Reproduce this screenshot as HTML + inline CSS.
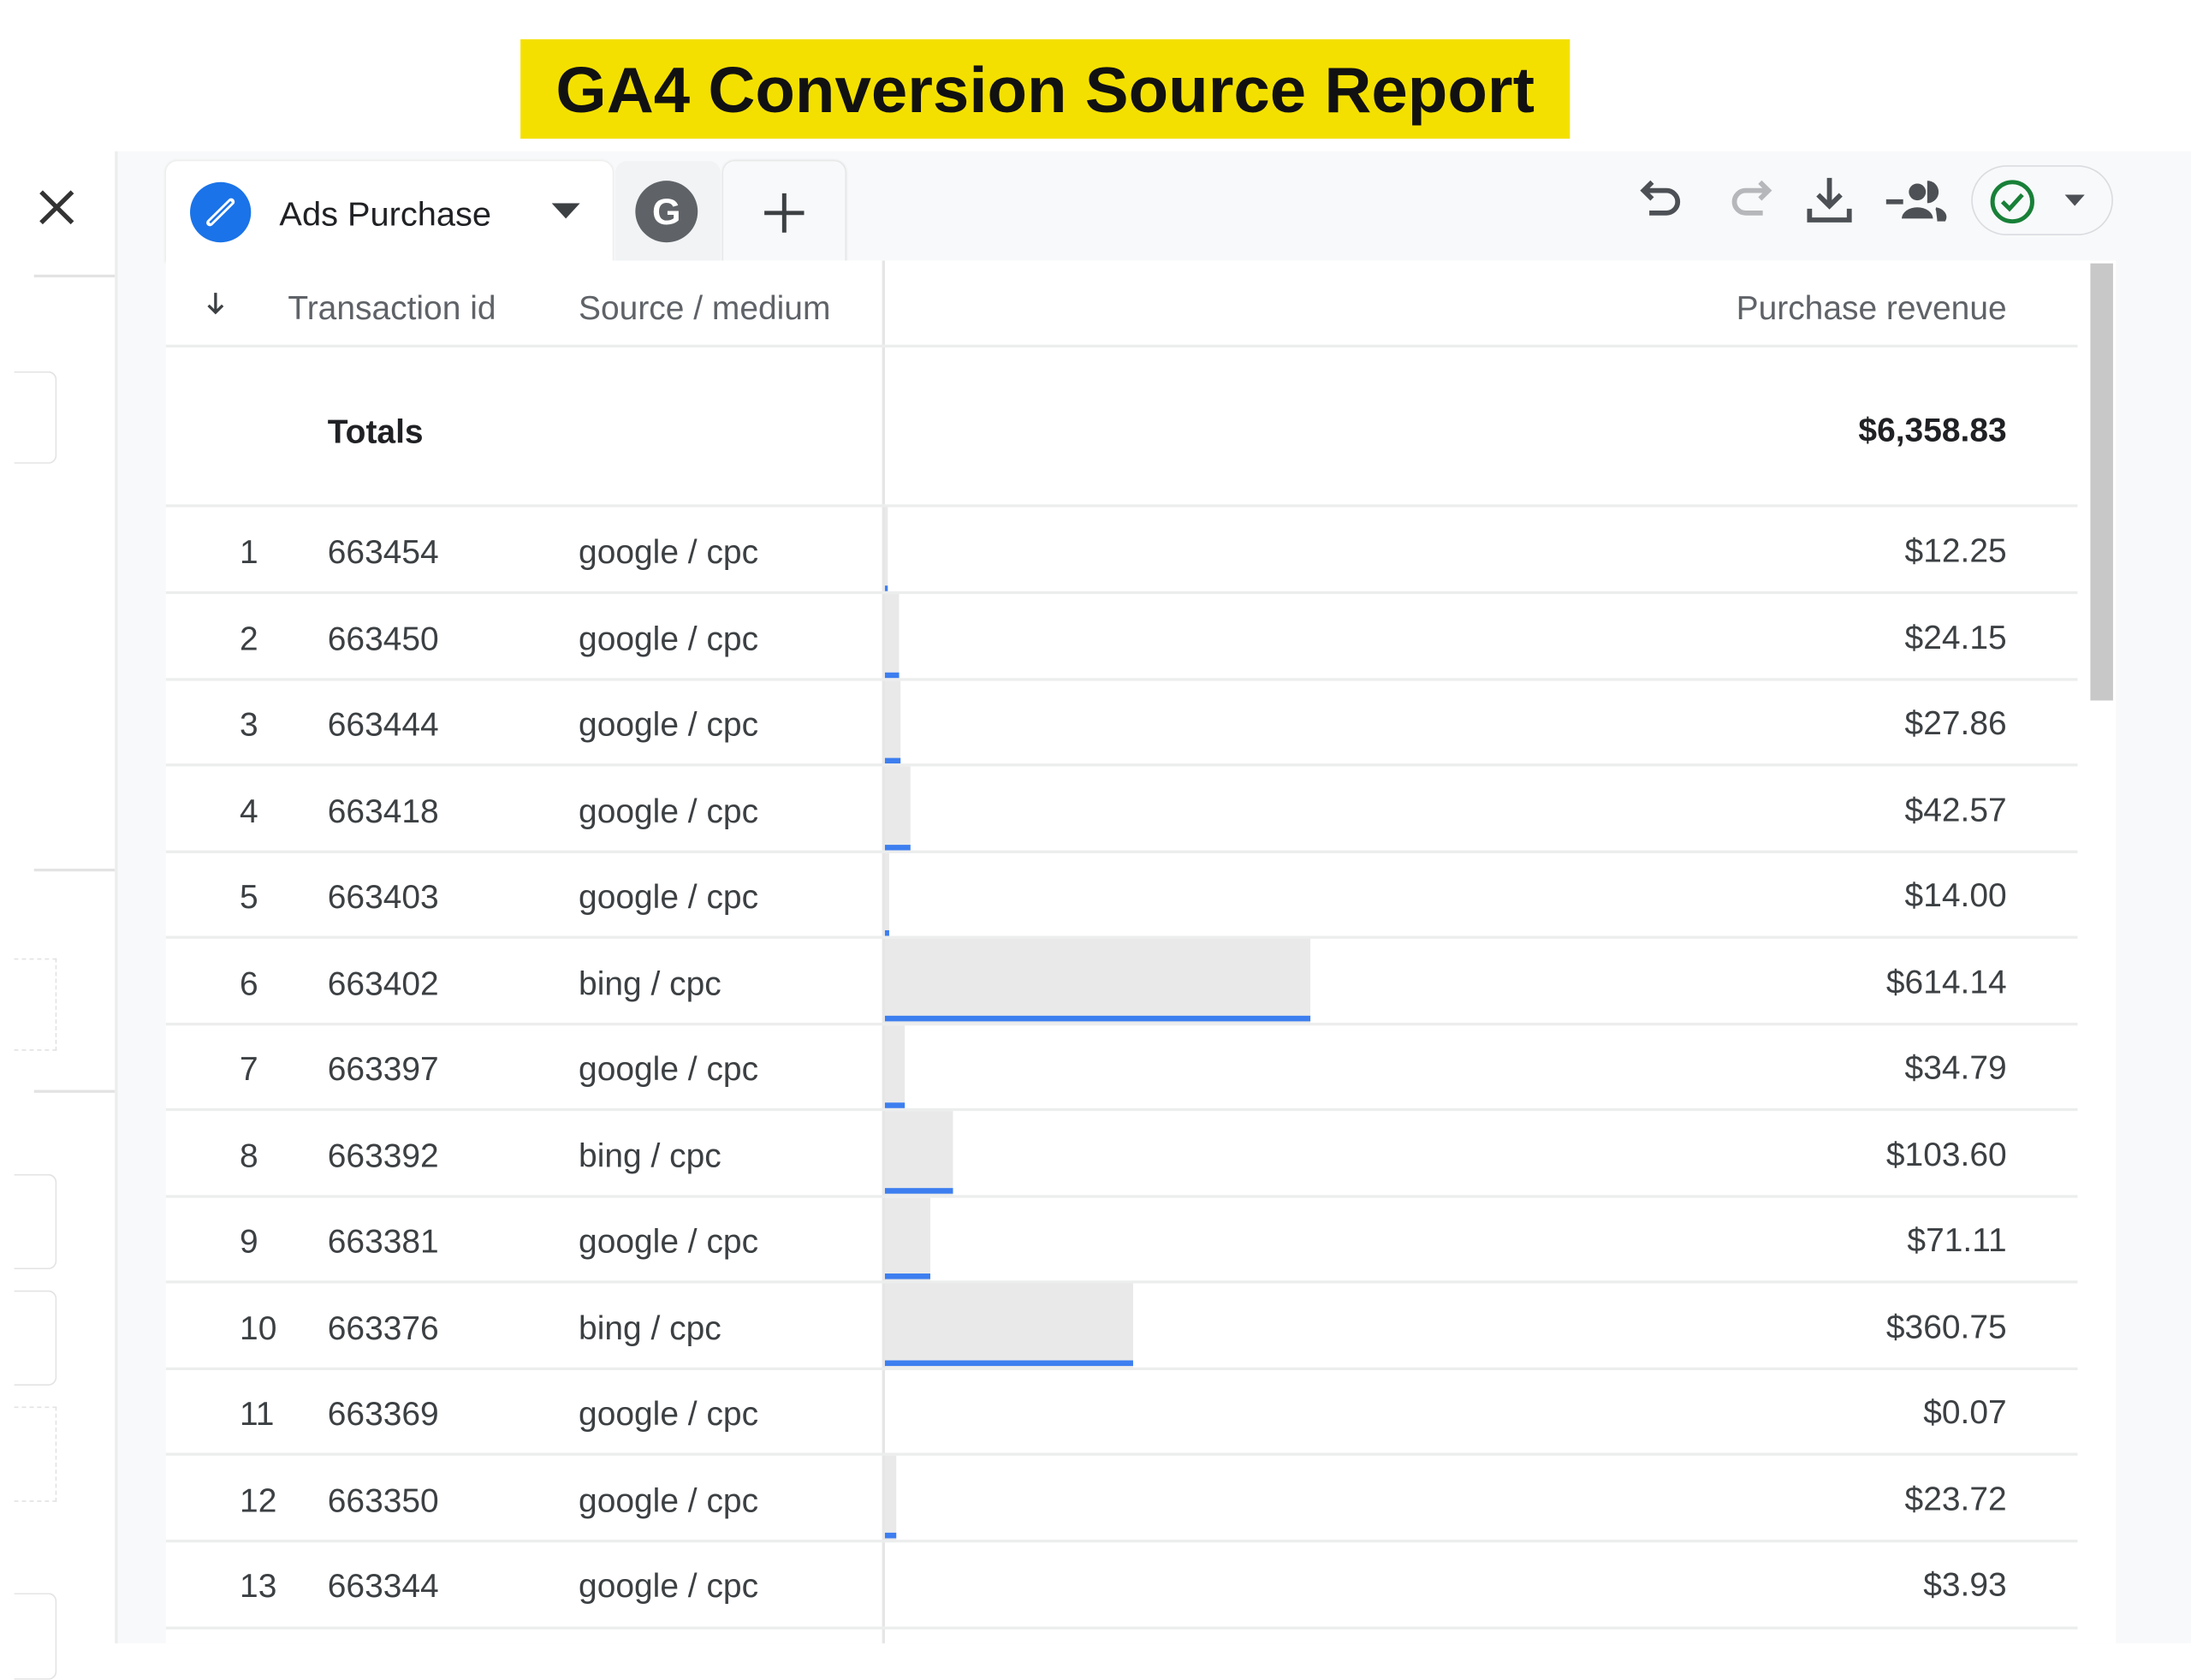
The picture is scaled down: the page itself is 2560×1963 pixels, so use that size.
<!DOCTYPE html>
<html><head><meta charset="utf-8"><style>
html,body{margin:0;padding:0;background:#fff;}
body{width:2560px;height:1920px;overflow:hidden;position:relative;}
#s{position:absolute;left:0;top:0;width:1545px;height:1173px;transform-origin:0 0;transform:scale(1.657,1.637);font-family:"Liberation Sans",Arial,sans-serif;}
.a{position:absolute;}
.t{position:absolute;font-size:23.5px;color:#3c4043;white-space:nowrap;line-height:1;}
.h{color:#5f6368;}
.r{text-align:right;}
.ln{position:absolute;left:117px;width:1348px;height:2px;background:#eceded;}
.gb{position:absolute;left:624px;background:#e9e9e9;}
.bb{position:absolute;left:624px;background:#3d7ef0;height:4px;}
</style></head><body><div id="s">
<div class="a" style="left:367px;top:28px;width:740px;height:71px;background:#f4e000;"></div>
<div class="a" style="left:367px;top:34px;width:740px;text-align:center;font-size:46px;font-weight:bold;color:#111;line-height:60px;">GA4 Conversion Source Report</div>

<div class="a" style="left:82px;top:108px;width:1463px;height:1065px;background:#f8f9fa;"></div>
<div class="a" style="left:81px;top:108px;width:2px;height:1065px;background:#eceded;"></div>
<div class="a" style="left:24px;top:196px;width:57px;height:2px;background:#e3e3e3;"></div>
<div class="a" style="left:24px;top:620px;width:57px;height:2px;background:#e3e3e3;"></div>
<div class="a" style="left:24px;top:778px;width:57px;height:2px;background:#e3e3e3;"></div>
<div class="a" style="left:10px;top:265px;width:29px;height:64px;border:1px solid #e3e3e3;border-left:none;border-radius:0 6px 6px 0;"></div>
<div class="a" style="left:10px;top:684px;width:29px;height:64px;border:1px dashed #e3e3e3;border-left:none;"></div>
<div class="a" style="left:10px;top:838px;width:29px;height:66px;border:1px solid #e3e3e3;border-left:none;border-radius:0 6px 6px 0;"></div>
<div class="a" style="left:10px;top:921px;width:29px;height:66px;border:1px solid #e3e3e3;border-left:none;border-radius:0 6px 6px 0;"></div>
<div class="a" style="left:10px;top:1004px;width:29px;height:66px;border:1px dashed #e3e3e3;border-left:none;"></div>
<div class="a" style="left:10px;top:1137px;width:29px;height:60px;border:1px solid #e3e3e3;border-left:none;border-radius:0 6px 6px 0;"></div>
<svg class="a" style="left:26px;top:134px" width="28" height="28"><path d="M3 3L25 25M25 3L3 25" stroke="#333" stroke-width="3.2"/></svg>

<!-- tabs -->
<div class="a" style="left:117px;top:115px;width:315px;height:72px;background:#fff;border-radius:8px 8px 0 0;box-shadow:0 0 2px #ddd;"></div>
<div class="a" style="left:134px;top:130px;width:43px;height:43px;border-radius:50%;background:#1a73e8;"></div>
<svg class="a" style="left:134px;top:130px" width="43" height="43"><path d="M14 29L29 14" stroke="#fff" stroke-width="5" stroke-linecap="round"/><path d="M14 29L29 14" stroke="#1a73e8" stroke-width="1.5"/></svg>
<div class="t" style="left:197px;top:142px;font-size:24px;color:#202124;">Ads Purchase</div>
<svg class="a" style="left:389px;top:145px" width="20" height="12"><path d="M0 0H20L10 11Z" fill="#3c4043"/></svg>
<div class="a" style="left:434px;top:115px;width:74px;height:72px;background:#f1f3f4;border-radius:8px 8px 0 0;"></div>
<div class="a" style="left:448px;top:129px;width:44px;height:44px;border-radius:50%;background:#5f6368;color:#fff;font-size:26px;font-weight:bold;text-align:center;line-height:44px;">G</div>
<div class="a" style="left:510px;top:115px;width:86px;height:72px;background:#f8f9fa;border-radius:8px 8px 0 0;box-shadow:0 0 2px #ccc;"></div>
<svg class="a" style="left:538px;top:137px" width="30" height="30"><path d="M15 1V29M1 15H29" stroke="#3c4043" stroke-width="3"/></svg>

<!-- toolbar icons -->
<svg class="a" style="left:1155px;top:125px" width="36" height="36"><path d="M10 5L4 11L10 17M4 11H20a8 8 0 0 1 0 16H8" fill="none" stroke="#4d5156" stroke-width="3.5"/></svg>
<svg class="a" style="left:1215px;top:125px" width="36" height="36"><path d="M26 5L32 11L26 17M32 11H16a8 8 0 0 0 0 16H28" fill="none" stroke="#b5b7ba" stroke-width="3.5"/></svg>
<svg class="a" style="left:1272px;top:125px" width="36" height="36"><path d="M18 2V22M10 14L18 22L26 14M4 24V32H32V24" fill="none" stroke="#4d5156" stroke-width="3.5"/></svg>
<svg class="a" style="left:1328px;top:125px" width="46" height="36"><path d="M2 19H14" stroke="#4d5156" stroke-width="3.5"/><circle cx="24" cy="12" r="6" fill="#4d5156"/><path d="M13 31a11 8 0 0 1 22 0Z" fill="#4d5156"/><path d="M31 5a7 7 0 0 1 0 14M37 24a8 6 0 0 1 6 8h-5" fill="#4d5156" stroke="#4d5156" stroke-width="2"/></svg>
<div class="a" style="left:1390px;top:118px;width:100px;height:50px;border:1px solid #dadce0;border-radius:26px;box-sizing:border-box;"></div>
<svg class="a" style="left:1402px;top:127px" width="34" height="34"><circle cx="17" cy="17" r="14" fill="none" stroke="#188038" stroke-width="3"/><path d="M10 17L15 22L24 12" fill="none" stroke="#188038" stroke-width="3"/></svg>
<svg class="a" style="left:1456px;top:139px" width="14" height="8"><path d="M0 0H14L7 8Z" fill="#4d5156"/></svg>

<!-- table -->
<div class="a" style="left:117px;top:186px;width:1375px;height:987px;background:#fff;"></div>
<div class="a" style="left:1474px;top:188px;width:16px;height:312px;background:#c8c8c8;"></div>
<div class="a" style="left:622px;top:186px;width:2px;height:987px;background:#e6e6e6;"></div>
<svg class="a" style="left:145px;top:208px" width="14" height="18"><path d="M7 1V15M2 10L7 15L12 10" fill="none" stroke="#3c4043" stroke-width="2"/></svg>
<div class="t h" style="left:203px;top:209px;">Transaction id</div>
<div class="t h" style="left:408px;top:209px;">Source / medium</div>
<div class="t h r" style="left:1015px;width:400px;top:209px;">Purchase revenue</div>
<div class="ln" style="top:246px;"></div>
<div class="t" style="left:231px;top:297px;font-weight:bold;color:#202124;">Totals</div>
<div class="t r" style="left:1015px;width:400px;top:296px;font-weight:bold;color:#202124;">$6,358.83</div>

<div class="ln" style="top:360px;"></div>
<div class="gb" style="top:362px;width:2px;height:60px;"></div><div class="bb" style="top:418px;width:2px"></div>
<div class="t" style="left:169px;top:383px;">1</div><div class="t" style="left:231px;top:383px;">663454</div><div class="t" style="left:408px;top:383px;">google / cpc</div><div class="t r" style="left:1015px;width:400px;top:382px;">$12.25</div>
<div class="ln" style="top:422px;"></div>
<div class="gb" style="top:424px;width:10px;height:60px;"></div><div class="bb" style="top:480px;width:10px"></div>
<div class="t" style="left:169px;top:445px;">2</div><div class="t" style="left:231px;top:445px;">663450</div><div class="t" style="left:408px;top:445px;">google / cpc</div><div class="t r" style="left:1015px;width:400px;top:444px;">$24.15</div>
<div class="ln" style="top:484px;"></div>
<div class="gb" style="top:486px;width:11px;height:59px;"></div><div class="bb" style="top:541px;width:11px"></div>
<div class="t" style="left:169px;top:506px;">3</div><div class="t" style="left:231px;top:506px;">663444</div><div class="t" style="left:408px;top:506px;">google / cpc</div><div class="t r" style="left:1015px;width:400px;top:505px;">$27.86</div>
<div class="ln" style="top:545px;"></div>
<div class="gb" style="top:547px;width:18px;height:60px;"></div><div class="bb" style="top:603px;width:18px"></div>
<div class="t" style="left:169px;top:568px;">4</div><div class="t" style="left:231px;top:568px;">663418</div><div class="t" style="left:408px;top:568px;">google / cpc</div><div class="t r" style="left:1015px;width:400px;top:567px;">$42.57</div>
<div class="ln" style="top:607px;"></div>
<div class="gb" style="top:609px;width:3px;height:59px;"></div><div class="bb" style="top:664px;width:3px"></div>
<div class="t" style="left:169px;top:629px;">5</div><div class="t" style="left:231px;top:629px;">663403</div><div class="t" style="left:408px;top:629px;">google / cpc</div><div class="t r" style="left:1015px;width:400px;top:628px;">$14.00</div>
<div class="ln" style="top:668px;"></div>
<div class="gb" style="top:670px;width:300px;height:60px;"></div><div class="bb" style="top:725px;width:300px"></div>
<div class="t" style="left:169px;top:691px;">6</div><div class="t" style="left:231px;top:691px;">663402</div><div class="t" style="left:408px;top:691px;">bing / cpc</div><div class="t r" style="left:1015px;width:400px;top:690px;">$614.14</div>
<div class="ln" style="top:730px;"></div>
<div class="gb" style="top:732px;width:14px;height:59px;"></div><div class="bb" style="top:787px;width:14px"></div>
<div class="t" style="left:169px;top:752px;">7</div><div class="t" style="left:231px;top:752px;">663397</div><div class="t" style="left:408px;top:752px;">google / cpc</div><div class="t r" style="left:1015px;width:400px;top:751px;">$34.79</div>
<div class="ln" style="top:791px;"></div>
<div class="gb" style="top:793px;width:48px;height:60px;"></div><div class="bb" style="top:848px;width:48px"></div>
<div class="t" style="left:169px;top:814px;">8</div><div class="t" style="left:231px;top:814px;">663392</div><div class="t" style="left:408px;top:814px;">bing / cpc</div><div class="t r" style="left:1015px;width:400px;top:813px;">$103.60</div>
<div class="ln" style="top:853px;"></div>
<div class="gb" style="top:855px;width:32px;height:59px;"></div><div class="bb" style="top:909px;width:32px"></div>
<div class="t" style="left:169px;top:875px;">9</div><div class="t" style="left:231px;top:875px;">663381</div><div class="t" style="left:408px;top:875px;">google / cpc</div><div class="t r" style="left:1015px;width:400px;top:874px;">$71.11</div>
<div class="ln" style="top:914px;"></div>
<div class="gb" style="top:916px;width:175px;height:60px;"></div><div class="bb" style="top:971px;width:175px"></div>
<div class="t" style="left:169px;top:937px;">10</div><div class="t" style="left:231px;top:937px;">663376</div><div class="t" style="left:408px;top:937px;">bing / cpc</div><div class="t r" style="left:1015px;width:400px;top:936px;">$360.75</div>
<div class="ln" style="top:976px;"></div>
<div class="t" style="left:169px;top:998px;">11</div><div class="t" style="left:231px;top:998px;">663369</div><div class="t" style="left:408px;top:998px;">google / cpc</div><div class="t r" style="left:1015px;width:400px;top:997px;">$0.07</div>
<div class="ln" style="top:1037px;"></div>
<div class="gb" style="top:1039px;width:8px;height:60px;"></div><div class="bb" style="top:1094px;width:8px"></div>
<div class="t" style="left:169px;top:1060px;">12</div><div class="t" style="left:231px;top:1060px;">663350</div><div class="t" style="left:408px;top:1060px;">google / cpc</div><div class="t r" style="left:1015px;width:400px;top:1059px;">$23.72</div>
<div class="ln" style="top:1099px;"></div>
<div class="t" style="left:169px;top:1121px;">13</div><div class="t" style="left:231px;top:1121px;">663344</div><div class="t" style="left:408px;top:1121px;">google / cpc</div><div class="t r" style="left:1015px;width:400px;top:1120px;">$3.93</div>
<div class="ln" style="top:1161px;"></div>
</div></body></html>
